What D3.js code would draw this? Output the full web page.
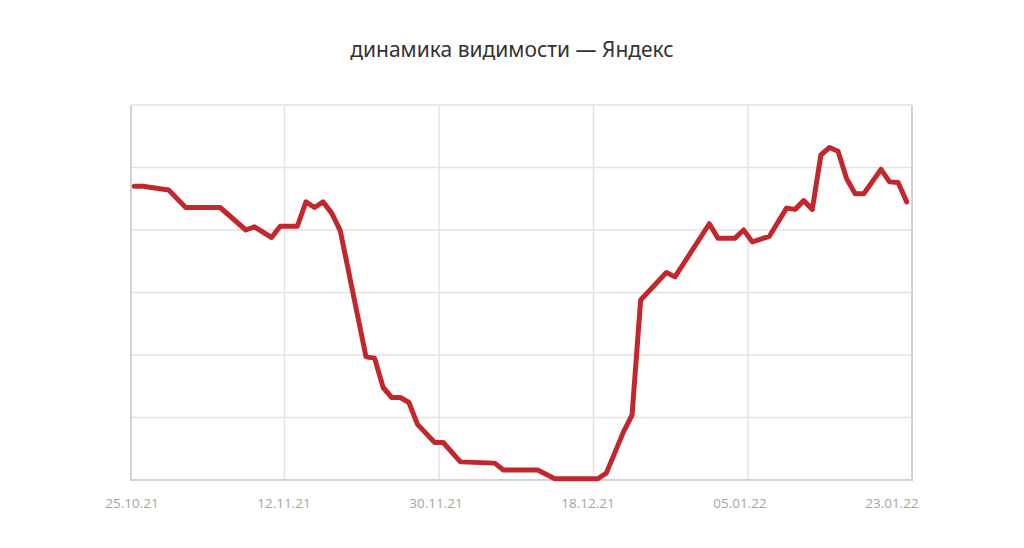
<!DOCTYPE html>
<html>
<head>
<meta charset="utf-8">
<script src="https://cdn.jsdelivr.net/npm/d3@7"></script>
<style>
  body { margin: 0; background: #fff; }
  svg { display: block; }
</style>
</head>
<body>
<svg width="1024" height="548"></svg>
<script>
var title = 'динамика видимости — Яндекс'

var dates = ['25.10.21','26.10.21','29.10.21','31.10.21','04.11.21','07.11.21','08.11.21','10.11.21',
  '11.11.21','13.11.21','14.11.21','15.11.21','16.11.21','17.11.21','18.11.21','21.11.21','22.11.21',
  '23.11.21','24.11.21','25.11.21','26.11.21','27.11.21','29.11.21','30.11.21','02.12.21','06.12.21',
  '07.12.21','11.12.21','13.12.21','18.12.21','19.12.21','21.12.21','22.12.21','23.12.21','26.12.21',
  '27.12.21','31.12.21','01.01.22','03.01.22','04.01.22','05.01.22','07.01.22','09.01.22','10.01.22',
  '11.01.22','12.01.22','13.01.22','14.01.22','15.01.22','16.01.22','17.01.22','18.01.22','20.01.22',
  '21.01.22','22.01.22','23.01.22']

var visibility = [47.0, 47.0, 46.4, 43.6, 43.6, 40.0, 40.5, 38.8,
  40.6, 40.6, 44.5, 43.6, 44.5, 42.7, 39.9, 19.7, 19.5,
  14.8, 13.2, 13.2, 12.4, 8.9, 6.0, 6.0, 2.9, 2.7,
  1.6, 1.6, 0.2, 0.2, 1.1, 7.7, 10.4, 28.8, 33.2,
  32.5, 41.0, 38.7, 38.7, 40.0, 38.1, 39.0, 43.5, 43.3,
  44.7, 43.3, 52.0, 53.2, 52.6, 48.2, 45.8, 45.8, 49.7,
  47.7, 47.6, 44.5]

var tickLabels = ['25.10.21','12.11.21','30.11.21','18.12.21','05.01.22','23.01.22']
var yTicks = [0, 10, 20, 30, 40, 50, 60]

var parse = d3.timeParse('%d.%m.%y')
var data = dates.map(function(d, i){
  return { date: d3.timeHour.offset(parse(d), 12), value: visibility[i] }
})

var svg = d3.select('svg')
var plotLeft = 131, plotRight = 912, plotTop = 105, plotBottom = 480

var x = d3.scaleTime()
    .domain([parse('25.10.21'), parse('24.01.22')])
    .range([130, 911])
var y = d3.scaleLinear()
    .domain([0, 60])
    .range([plotBottom, plotTop])
// labels sit a bit tighter than the gridlines in the original
var xl = d3.scalePoint()
    .domain(tickLabels)
    .range([132, 892])

svg.append('text')
    .text(title)
    .attr('x', 512)
    .attr('y', 57)
    .attr('text-anchor', 'middle')
    .attr('font-family', 'Noto Sans, sans-serif')
    .attr('font-size', 21)
    .attr('fill', '#333')

var grid = svg.append('g')
grid.selectAll('.hgrid')
    .data(yTicks.slice(1))
    .enter().append('line')
    .attr('x1', plotLeft).attr('x2', plotRight)
    .attr('y1', function(d){ return y(d) })
    .attr('y2', function(d){ return y(d) })
    .attr('stroke', '#e3e3e3')
    .attr('stroke-width', 1.5)

grid.selectAll('.vgrid')
    .data(tickLabels.slice(1, -1))
    .enter().append('line')
    .attr('x1', function(d){ return x(parse(d)) })
    .attr('x2', function(d){ return x(parse(d)) })
    .attr('y1', plotTop).attr('y2', plotBottom)
    .attr('stroke', '#e3e3e3')
    .attr('stroke-width', 1.5)

// frame: left, right and bottom
svg.append('path')
    .attr('d', 'M' + plotLeft + ',' + plotTop + 'V' + plotBottom + 'H' + plotRight + 'V' + plotTop)
    .attr('fill', 'none')
    .attr('stroke', '#d2d2d2')
    .attr('stroke-width', 2)

var line = d3.line()
    .x(function(d){ return x(d.date) })
    .y(function(d){ return y(d.value) })

svg.append('path')
    .datum(data)
    .attr('d', line)
    .attr('fill', 'none')
    .attr('stroke', '#c1272d')
    .attr('stroke-width', 5)
    .attr('stroke-linejoin', 'round')
    .attr('stroke-linecap', 'round')

svg.append('g').selectAll('text')
    .data(tickLabels)
    .enter().append('text')
    .text(function(d){ return d })
    .attr('x', function(d){ return xl(d) })
    .attr('y', 508)
    .attr('text-anchor', 'middle')
    .attr('font-family', 'Open Sans, sans-serif')
    .attr('font-size', 13.5)
    .attr('fill', '#a3a3a3')
</script>
</body>
</html>
